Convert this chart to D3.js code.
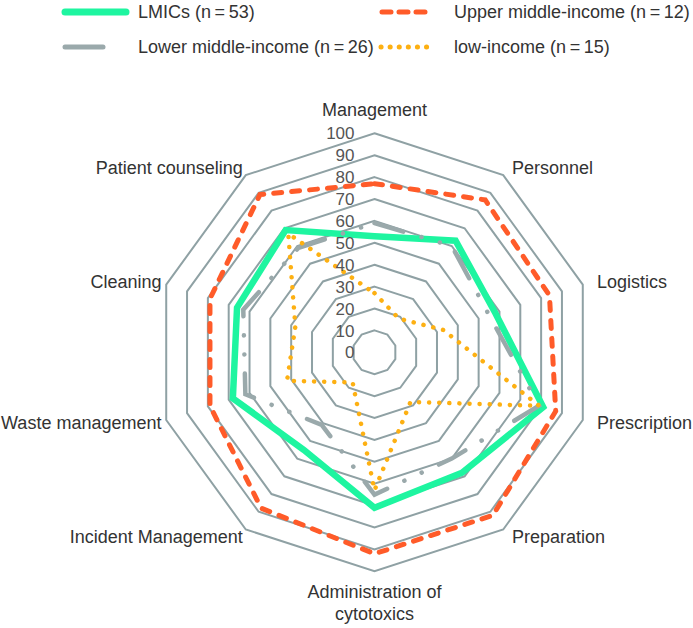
<!DOCTYPE html>
<html lang="en">
<head>
  <meta charset="UTF-8">
  <title>Radar – income groups</title>
  <script src="https://d3js.org/d3.v7.min.js"></script>
  <style>
    body {
      margin: 0;
      background: #ffffff;
      font-family: 'Liberation Sans', Arial, Helvetica, sans-serif;
    }
    svg { display: block; }
  </style>
</head>
<body>
<svg id="chart" width="693" height="628"></svg>
<script>
  // axes, clockwise from the top
  const categories = ["Management", "Personnel", "Logistics", "Prescription", "Preparation",
    "Administration of cytotoxics", "Incident Management", "Waste management", "Cleaning", "Patient counseling"];

  const lmics       = [53, 63, 58, 81, 68, 71, 55, 68, 66, 69];
  const upperMiddle = [77, 86, 84, 87, 92, 92, 88, 79, 79, 89];
  const lowerMiddle = [59, 60, 55, 79, 60, 65, 41, 62, 63, 59];
  const lowIncome   = [27, 19, 33, 79, 28, 63, 17, 42, 38, 67];

  const ringValues = [10, 20, 30, 40, 50, 60, 70, 80, 90, 100];
  const tickLabels = [0, 10, 20, 30, 40, 50, 60, 70, 80, 90, 100];

  const seriesNames = ["LMICs (n\u2009=\u200953)", "Upper middle-income (n\u2009=\u200912)",
    "Lower middle-income (n\u2009=\u200926)", "low-income (n\u2009=\u200915)"];

  const styles = [
    { color: "#1ef5a0", width: 6.5, dash: null, cap: "butt" },
    { color: "#ff5b29", width: 5, dash: "8,10", cap: "round" },
    { color: "#9aa9ab", width: 4.5, dash: "30,19,0.1,19,0.1,19", cap: "round" },
    { color: "#fdb012", width: 4.5, dash: "0.1,10", cap: "round" }
  ];
  const seriesData = [lmics, upperMiddle, lowerMiddle, lowIncome];

  const svg = d3.select("#chart");
  const cx = 374.5, cy = 352.3;
  const n = categories.length;
  const angle = i => i * 2 * Math.PI / n;

  const r = d3.scaleLinear().domain([0, 100]).range([0, 219]);

  const g = svg.append("g").attr("transform", `translate(${cx},${cy})`);

  const radial = d3.lineRadial()
    .angle((d, i) => angle(i))
    .radius(d => r(d))
    .curve(d3.curveLinearClosed);

  // rings
  g.append("g")
    .selectAll("path")
    .data(ringValues)
    .join("path")
    .attr("d", v => radial(d3.range(n).map(() => v)))
    .attr("fill", "none")
    .attr("stroke", "#8fa1a4")
    .attr("stroke-width", 2);

  // series (green, orange, gray, yellow)
  g.append("g")
    .selectAll("path")
    .data(seriesData)
    .join("path")
    .attr("d", d => radial(d))
    .attr("fill", "none")
    .attr("stroke", (d, i) => styles[i].color)
    .attr("stroke-width", (d, i) => styles[i].width)
    .attr("stroke-dasharray", (d, i) => styles[i].dash)
    .attr("stroke-linecap", (d, i) => styles[i].cap)
    .attr("stroke-linejoin", "miter");

  // ring tick labels
  g.append("g")
    .selectAll("text")
    .data(tickLabels)
    .join("text")
    .attr("x", -20)
    .attr("y", d => -r(d))
    .attr("dy", "0.36em")
    .attr("text-anchor", "end")
    .attr("font-size", 17)
    .attr("fill", "#555")
    .text(d => d);

  // axis labels
  const labels = g.append("g")
    .attr("font-size", 18)
    .attr("fill", "#333");

  categories.forEach((name, i) => {
    const a = angle(i);
    const s = Math.sin(a), c = Math.cos(a);
    const t = labels.append("text");
    if (i === 0) {
      t.attr("x", 0).attr("y", -236).attr("text-anchor", "middle").text(name);
    } else if (i === n / 2) {
      const words = name.split(" ");
      t.attr("text-anchor", "middle");
      t.append("tspan").attr("x", 0).attr("y", 246).text(words.slice(0, 2).join(" "));
      t.append("tspan").attr("x", 0).attr("y", 268).text(words.slice(2).join(" "));
    } else {
      const rx = s > 0 ? 234 : 224;
      t.attr("x", s * rx)
        .attr("y", -c * 228)
        .attr("dy", "0.36em")
        .attr("text-anchor", s > 0 ? "start" : "end")
        .text(name);
    }
  });

  // legend
  const legendPos = [
    { x: 63, y: 12 }, { x: 379, y: 12 },
    { x: 63, y: 47 }, { x: 379, y: 47 }
  ];
  const legend = svg.append("g")
    .selectAll("g")
    .data(seriesNames)
    .join("g")
    .attr("transform", (d, i) => `translate(${legendPos[i].x},${legendPos[i].y})`);

  legend.append("line")
    .attr("x1", (d, i) => i === 1 ? 3 : 2)
    .attr("x2", (d, i) => i === 0 ? 63 : 54)
    .attr("stroke", (d, i) => styles[i].color)
    .attr("stroke-width", (d, i) => i === 0 ? 7 : 5)
    .attr("stroke-linecap", "round")
    .attr("stroke-dasharray", (d, i) => [null, "9,8", "38,17,0.1,100", "0.1,9"][i]);

  legend.append("text")
    .attr("x", (d, i) => i % 2 === 0 ? 75 : 75)
    .attr("dy", "0.36em")
    .attr("font-size", 18)
    .attr("fill", "#333")
    .text(d => d);
</script>
</body>
</html>
